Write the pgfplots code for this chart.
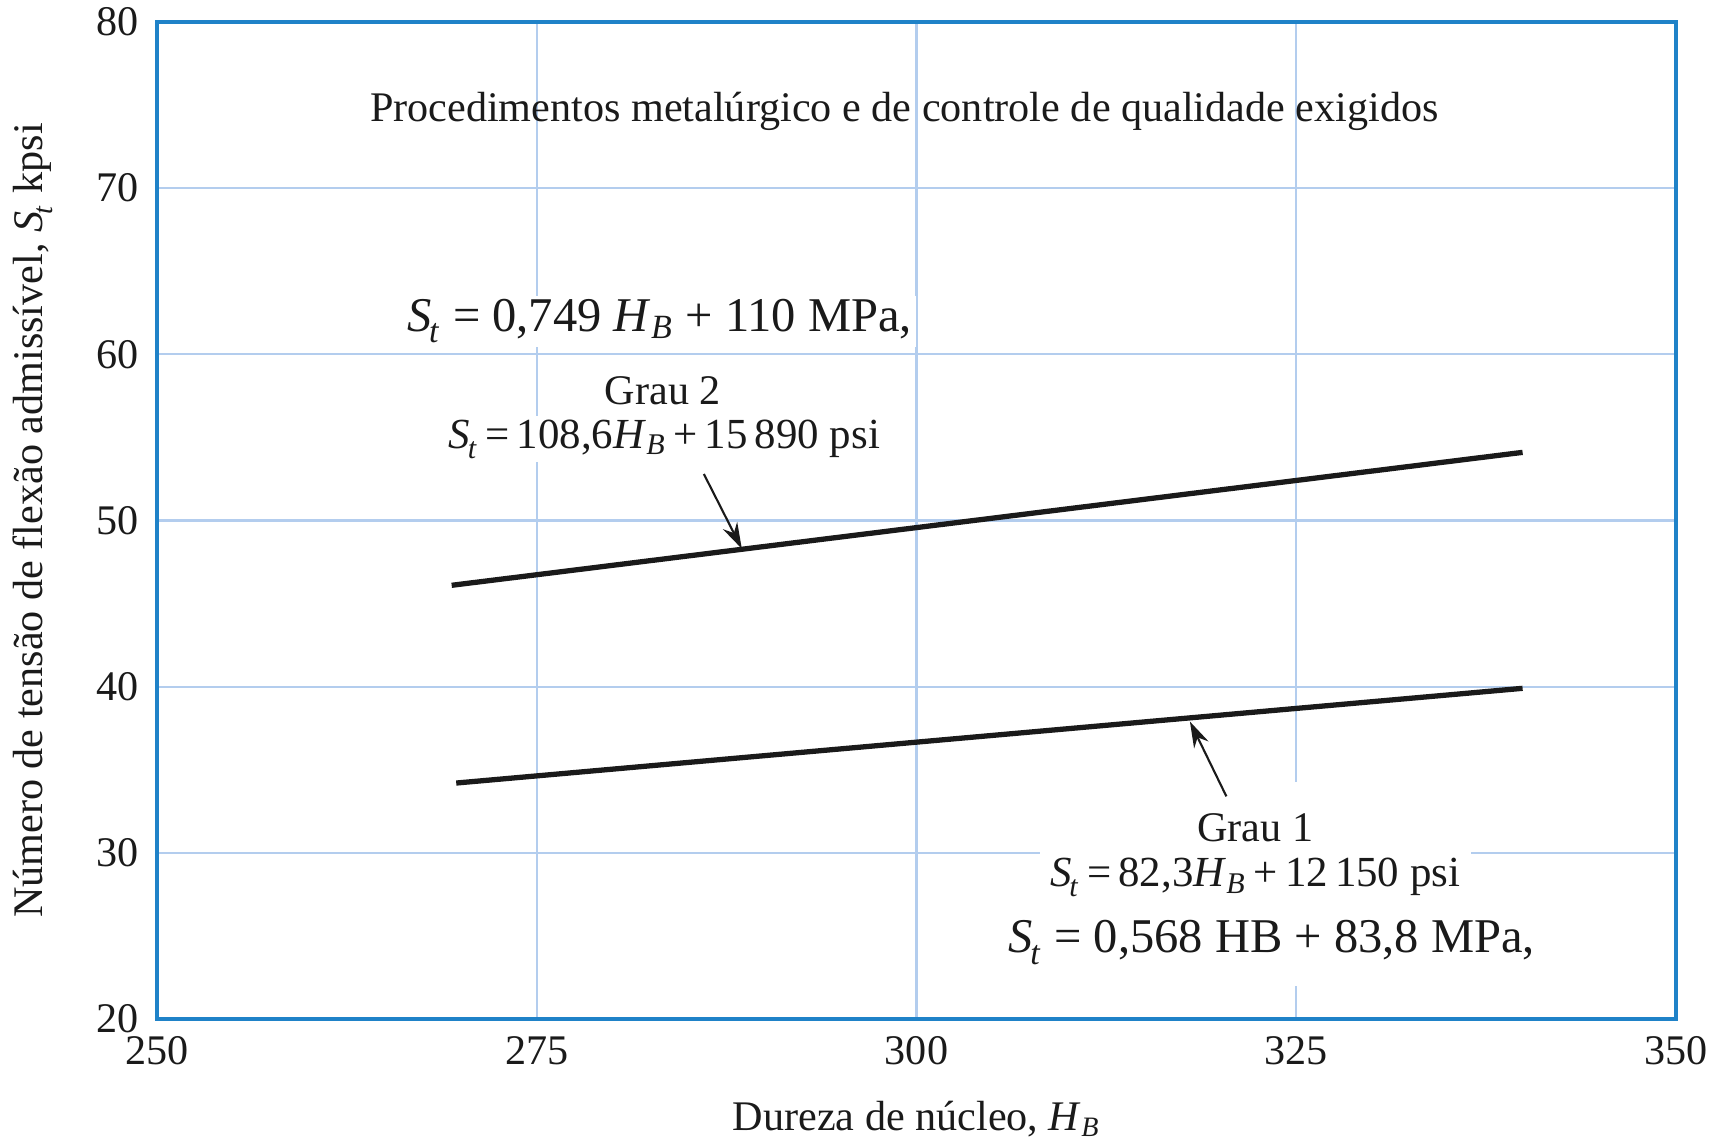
\documentclass[border=0pt]{standalone}
\usepackage{fontspec}
\setmainfont{Liberation Serif}
\usepackage{pgfplots}
\pgfplotsset{compat=1.18}
\usetikzlibrary{arrows.meta,calc}

\definecolor{frameblue}{HTML}{1F82C8}
\definecolor{gridblue}{HTML}{B3CDEE}
\definecolor{ink}{HTML}{1A1A1A}

\newcommand{\St}{\textit{S}\textsubscript{\kern-0.08em\raisebox{-0.25ex}{\textit{t}}}}
\newcommand{\HB}{\textit{H}\textsubscript{\textit{B}}}

\begin{document}
\begin{tikzpicture}
\useasboundingbox (-15.7mm,-12.5mm) rectangle (156.3mm,101.9mm);
\begin{axis}[
  at={(0,0)}, anchor=south west,
  scale only axis,
  width=151.9mm, height=99.7mm,
  xmin=250, xmax=350, ymin=20, ymax=80,
  xtick={250,275,...,350}, ytick={20,30,...,80},
  major tick length=0pt,
  grid=major,
  major grid style={gridblue, line width=0.6pt},
  axis line style={frameblue, line width=1.1pt},
  /pgf/number format/assume math mode=true,
  /pgf/number format/1000 sep={},
  ticklabel style={font=\fontsize{12}{14}\selectfont, text=ink},
  xticklabel style={yshift=-0.5mm},
  yticklabel style={xshift=-0.6mm},
  label style={font=\fontsize{12}{14}\selectfont, text=ink},
  xlabel={Dureza de núcleo, \HB},
  ylabel={Número de tensão de flexão admissível, \St\ kpsi},
  xlabel style={at={($(rel axis cs:0.5,0)+(0,-10.0mm)$)}, anchor=center},
  ylabel style={at={($(rel axis cs:0,0.5)+(-12.4mm,0)$)}, anchor=center},
  clip=false,
]
% Grau 2
\addplot[ink, line width=1.5pt] coordinates {(269.4,46.1) (339.9,54.1)};
% Grau 1
\addplot[ink, line width=1.5pt] coordinates {(269.7,34.2) (339.9,39.9)};

\node[text=ink, font=\fontsize{12}{14}\selectfont] at (axis cs:299.2,74.6)
  {Procedimentos metalúrgico e de controle de qualidade exigidos};

\node[fill=white, inner sep=1pt, text=ink, font=\fontsize{13.8}{16}\selectfont]
  at (axis cs:283.1,62.0) {\St\ = 0,749 \HB\ + 110 MPa,};
\node[fill=white, inner sep=1pt, text=ink, font=\fontsize{12}{14}\selectfont]
  at (axis cs:283.3,57.8) {Grau 2};
\node[fill=white, inner sep=1pt, text=ink, font=\fontsize{12.2}{14}\selectfont]
  at (axis cs:283.4,54.9) {\St\,=\,108,6\HB\,+\,15\,890 psi};
\draw[ink, line width=0.6pt, -{Stealth[length=2.6mm,width=1.6mm]}]
  (axis cs:286.0,52.8) -- (axis cs:288.5,48.3);

\node[fill=white, inner xsep=2pt, inner ysep=9pt, text=ink, font=\fontsize{12}{14}\selectfont]
  at (axis cs:322.3,31.5) {Grau 1};
\node[fill=white, inner xsep=3pt, inner ysep=3pt, text=ink, font=\fontsize{12.2}{14}\selectfont]
  at (axis cs:322.3,28.5) {\St\,=\,82,3\HB\,+\,12\,150 psi};
\node[fill=white, inner xsep=1pt, inner ysep=6pt, text=ink, font=\fontsize{13.8}{16}\selectfont]
  at (axis cs:323.4,24.6) {\St\ = 0,568 HB + 83,8 MPa,};
\draw[ink, line width=0.6pt, -{Stealth[length=2.6mm,width=1.6mm]}]
  (axis cs:320.4,33.4) -- (axis cs:318.0,37.9);
\end{axis}
\end{tikzpicture}
\end{document}
